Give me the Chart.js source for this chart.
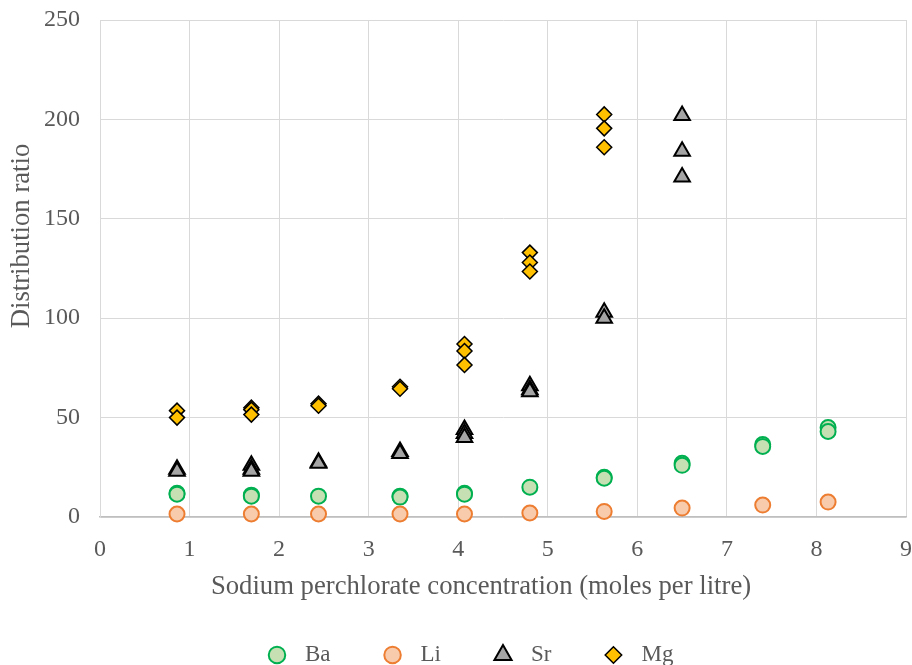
<!DOCTYPE html>
<html>
<head>
<meta charset="utf-8">
<script src="https://cdn.jsdelivr.net/npm/chart.js@4.4.1/dist/chart.umd.min.js"></script>
<style>
    html, body { margin: 0; padding: 0; background: #ffffff; }
    #wrap { width: 912px; height: 665px; }
</style>
</head>
<body>
<div id="wrap"><canvas id="chart" width="912" height="665"></canvas></div>
<script>
// Sodium perchlorate concentration (x) and distribution ratio (y), replicates per concentration
const baX = [0.86, 0.86, 1.69, 1.69, 2.44, 3.35, 3.35, 4.07, 4.07, 4.80, 5.63, 5.63, 6.50, 6.50, 7.40, 7.40, 8.13, 8.13];
const baY = [12, 11.5, 11, 10.5, 10.5, 10.5, 10, 12, 11.5, 15, 20, 19.5, 27, 26, 36.5, 35.5, 45, 43];

const liX = [0.86, 1.69, 2.44, 3.35, 4.07, 4.80, 5.63, 6.50, 7.40, 8.13];
const liY = [1.5, 1.5, 1.5, 1.5, 1.5, 2, 2.8, 4.5, 6, 7.5];

const srX = [0.86, 0.86, 1.69, 1.69, 1.69, 2.44, 2.44, 3.35, 3.35, 4.07, 4.07, 4.07, 4.80, 4.80, 4.80, 5.63, 5.63, 6.50, 6.50, 6.50];
const srY = [24, 23, 26, 24, 23, 27.5, 27, 33, 32, 44, 42, 40, 66, 64, 63, 103, 100, 202, 184, 171];

const mgX = [0.86, 0.86, 1.69, 1.69, 1.69, 2.44, 2.44, 3.35, 3.35, 4.07, 4.07, 4.07, 4.80, 4.80, 4.80, 5.63, 5.63, 5.63];
const mgY = [53.5, 50, 55, 54, 51.5, 57, 56, 65.5, 64.5, 87, 83.5, 76.5, 133, 128, 123.5, 202.5, 195.5, 186];

const seriesNames = ['Ba', 'Li', 'Sr', 'Mg'];

const FONT = 'Liberation Serif, Times New Roman, serif';
const TEXT_COLOR = '#595959';

// markers may hang over the plot edge like in Excel, so don't let them shrink the plot area
Chart.ScatterController.prototype.getMaxOverflow = function() { return 0; };

function toPoints(xs, ys) {
    return xs.map(function(x, i) {
        return { x: x, y: ys[i] };
    });
}

// axis titles and legend are drawn by hand so they sit where Excel put them
const decorPlugin = {
    id: 'decor',
    afterDraw(chart) {
        const ctx = chart.ctx;
        ctx.save();
        ctx.fillStyle = TEXT_COLOR;
        ctx.textBaseline = 'middle';
        ctx.textAlign = 'center';
        ctx.font = '26.7px ' + FONT;
        ctx.fillText('Sodium perchlorate concentration (moles per litre)', 481, 587);

        ctx.save();
        ctx.translate(22, 236);
        ctx.rotate(-Math.PI / 2);
        ctx.fillText('Distribution ratio', 0, 0);
        ctx.restore();

        // legend
        ctx.font = '23px ' + FONT;
        ctx.textAlign = 'left';
        const datasets = chart.data.datasets;
        const gap = 28;
        const spacing = 62;
        let x = 277;
        const y = 655;
        for (let i = 0; i < datasets.length; i++) {
            const ds = datasets[i];
            ctx.save();
            ctx.fillStyle = ds.backgroundColor;
            ctx.strokeStyle = ds.borderColor;
            ctx.lineWidth = ds.borderWidth;
            Chart.helpers.drawPoint(ctx, {
                pointStyle: ds.pointStyle,
                radius: ds.pointRadius * 1.1,
                borderWidth: ds.borderWidth,
                rotation: 0
            }, x, y);
            ctx.restore();
            ctx.fillStyle = TEXT_COLOR;
            ctx.fillText(ds.label, x + gap, y);
            x += gap + ctx.measureText(ds.label).width + spacing;
        }
        ctx.restore();
    }
};

const chart = new Chart(document.getElementById('chart'), {
    type: 'scatter',
    data: {
        datasets: [{
            label: seriesNames[0],
            data: toPoints(baX, baY),
            pointStyle: 'circle',
            pointRadius: 7.5,
            backgroundColor: '#c6e0b4',
            borderColor: '#00b050',
            borderWidth: 2,
            clip: false,
            order: 4
        }, {
            label: seriesNames[1],
            data: toPoints(liX, liY),
            pointStyle: 'circle',
            pointRadius: 7.5,
            backgroundColor: '#f8cbad',
            borderColor: '#ed7d31',
            borderWidth: 2,
            clip: false,
            order: 3
        }, {
            label: seriesNames[2],
            data: toPoints(srX, srY),
            pointStyle: 'triangle',
            pointRadius: 9,
            backgroundColor: '#a5a5a5',
            borderColor: '#000000',
            borderWidth: 2,
            clip: false,
            order: 2
        }, {
            label: seriesNames[3],
            data: toPoints(mgX, mgY),
            pointStyle: 'rectRot',
            pointRadius: 7.5,
            backgroundColor: '#ffc000',
            borderColor: '#000000',
            borderWidth: 1.5,
            clip: false,
            order: 1
        }]
    },
    options: {
        responsive: false,
        animation: false,
        layout: {
            padding: { top: 20, right: 6, left: 0, bottom: 0 }
        },
        plugins: {
            legend: { display: false },
            tooltip: { enabled: false }
        },
        scales: {
            x: {
                type: 'linear',
                min: 0,
                max: 9,
                ticks: {
                    stepSize: 1,
                    color: TEXT_COLOR,
                    font: { family: FONT, size: 24 },
                    padding: 18
                },
                grid: { color: '#d9d9d9', drawTicks: false },
                border: { color: '#bfbfbf', width: 1.5 },
                afterFit: function(scale) {
                    scale.height = 148;
                    scale.paddingLeft = 0;
                    scale.paddingRight = 0;
                }
            },
            y: {
                min: 0,
                max: 250,
                ticks: {
                    stepSize: 50,
                    color: TEXT_COLOR,
                    font: { family: FONT, size: 24 },
                    padding: 20
                },
                grid: { color: '#d9d9d9', drawTicks: false },
                border: { color: '#d9d9d9' },
                afterFit: function(scale) {
                    scale.width = 100;
                    scale.paddingTop = 0;
                    scale.paddingBottom = 0;
                }
            }
        }
    },
    plugins: [decorPlugin]
});
</script>
</body>
</html>
